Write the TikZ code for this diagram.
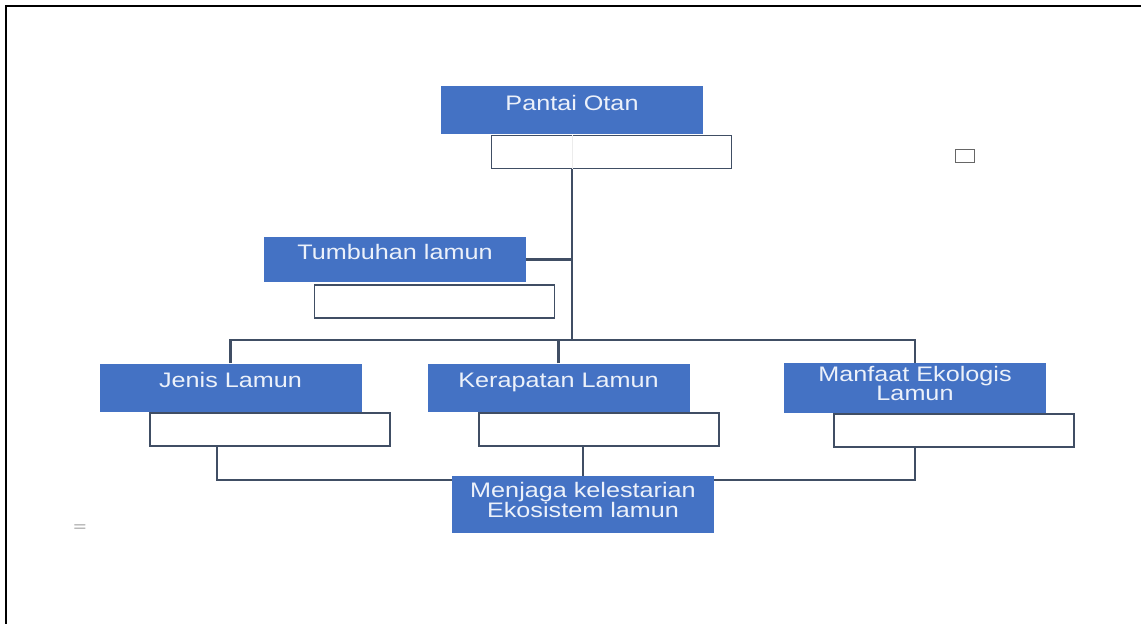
\documentclass[tikz,border=0pt]{standalone}
\usepackage{fontspec}
\usetikzlibrary{positioning,calc}
\newfontfamily\boxfont[FakeStretch=1.2]{Liberation Sans}
\definecolor{boxblue}{RGB}{68,114,196}
\definecolor{linkgray}{RGB}{64,78,100}
\definecolor{textwhite}{RGB}{236,241,250}

\begin{document}
\begin{tikzpicture}[x=1pt, y=-1pt,
    topic/.style={fill=boxblue, minimum width=262pt, minimum height=48pt, inner sep=2pt,
      text=textwhite, font={\boxfont\fontsize{21}{15}\selectfont}},
    oneline/.style={topic, text height=12pt, text depth=12pt},
    blank/.style={draw=linkgray, line width=1.6pt, fill=white, minimum width=240pt, minimum height=33pt},
    link/.style={draw=linkgray, line width=2.2pt}]
  \useasboundingbox (0,0) rectangle (1141,624);
  % page frame
  \draw[line width=2.5pt] (6,624) -- (6,6) -- (1141,6);

  \node[oneline] (pantai) at (572,110) {Pantai Otan};
  \node[blank] (pantaiw) at (611.5,152) {};
  \draw[gray!15, line width=1pt] (pantai |- pantaiw.north) -- (pantai |- pantaiw.south);

  \node[oneline, minimum height=45pt] (tumbuhan) at (395,259.5) {Tumbuhan lamun};
  \node[blank] (tumbuhanw) at (434.5,301.5) {};

  \node[oneline] (jenis) at (230.5,387.5) {Jenis Lamun};
  \node[blank] (jenisw) at (270,429.5) {};
  \node[oneline] (kerapatan) at (558.5,387.5) {Kerapatan Lamun};
  \node[blank] (kerapatanw) at (599,429.5) {};
  \node[topic, minimum height=50pt, text height=15pt, text depth=9pt] (manfaat) at (915,388)
    {\begin{tabular}{@{}c@{}}Manfaat Ekologis\\Lamun\end{tabular}};
  \node[blank] (manfaatw) at (954,430.5) {};

  \node[topic, minimum height=57pt, text height=16pt, text depth=11pt] (menjaga) at (583,504.5)
    {\begin{tabular}{@{}c@{}}Menjaga kelestarian\\Ekosistem lamun\end{tabular}};

  \node[draw=gray!80!black, line width=1pt, minimum width=19pt, minimum height=13pt, inner sep=0pt]
    (mark) at (964.5,155.5) {};
  \node[text=gray!70!black, font=\fontsize{18}{18}\sffamily] (eq) at (80,528) {=};

  \coordinate (bus) at (572,340);
  \coordinate (jl) at (217,480);

  % tree
  \draw[link] (pantai |- pantaiw.south) -- (pantai |- bus);
  \draw[link] (tumbuhan.east) -- (tumbuhan.east -| pantai);
  \draw[link] (jenis.north) -- (jenis |- bus) -- (manfaat |- bus) -- (manfaat.north);
  \draw[link] (kerapatan.north) -- (kerapatan |- bus);

  \draw[link] (jenisw.south -| jl) -- (jl) -- (jl -| menjaga.west);
  \draw[link] (menjaga.north) -- (menjaga.north |- kerapatanw.south);
  \draw[link] (menjaga.east |- jl) -- (manfaat |- jl) -- (manfaat |- manfaatw.south);
\end{tikzpicture}
\end{document}
